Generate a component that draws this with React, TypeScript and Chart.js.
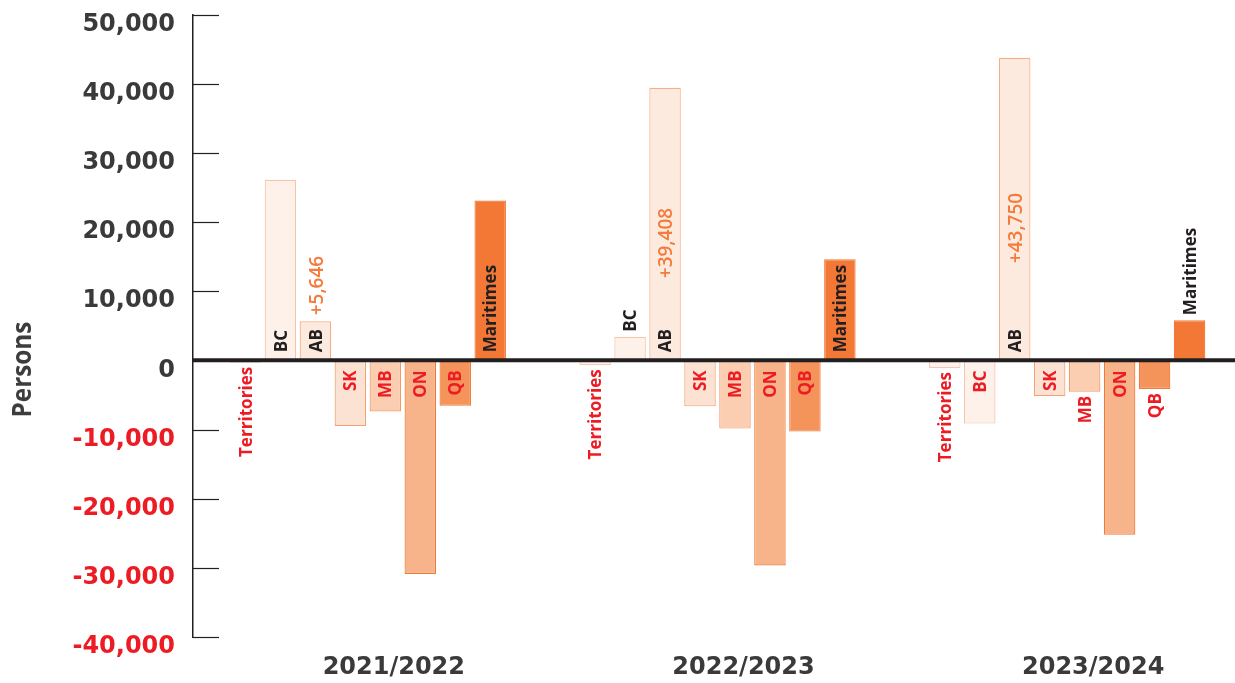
import React, { useEffect, useRef } from 'react';
import { Chart, registerables } from 'chart.js';

Chart.register(...registerables);

// ---- Data ----
const years = ['2021/2022', '2022/2023', '2023/2024'];
const regions = ['Territories', 'BC', 'AB', 'SK', 'MB', 'ON', 'QB', 'Maritimes'];

const territories = [-350, -700, -1100];
const bc = [26100, 3400, -9150];
const ab = [5646, 39408, 43750];
const sk = [-9500, -6650, -5200];
const mb = [-7400, -9870, -4530];
const on = [-30900, -29670, -25200];
const qb = [-6550, -10300, -4150];
const maritimes = [23100, 14600, 5800];

const seriesValues = [territories, bc, ab, sk, mb, on, qb, maritimes];

const yTickValues = [-40000, -30000, -20000, -10000, 0, 10000, 20000, 30000, 40000, 50000];

// ---- Styles ----
const fills = ['#fdf2ed', '#fdf1ea', '#fdeadf', '#fce2d3', '#fbceb1', '#f7b38a', '#f4935a', '#f37735'];
const borders = ['#f7c6ae', '#f7c4a9', '#f5ae86', '#f4a275', '#f39a68', '#ef7a36', '#f27a38', '#f37735'];

const DARK = '#3a3a3a';
const BLACK = '#231f20';
const RED = '#ed1c24';
const ORANGE = '#f47b3b';

const overlayPlugin = {
  id: 'overlay',
  afterDatasetsDraw(chart: any) {
    const { ctx, chartArea, scales } = chart;
    const yScale = scales.y;
    const zeroY = yScale.getPixelForValue(0);
    ctx.save();
    // tick marks inside the plot, to the right of the axis line
    ctx.strokeStyle = BLACK;
    ctx.lineWidth = 1.2;
    yScale.ticks.forEach((t: any) => {
      if (t.value === 0) return;
      const py = Math.round(yScale.getPixelForValue(t.value)) + 0.5;
      ctx.beginPath();
      ctx.moveTo(chartArea.left, py);
      ctx.lineTo(chartArea.left + 26, py);
      ctx.stroke();
    });
    // thick zero line
    ctx.lineWidth = 4;
    ctx.beginPath();
    ctx.moveTo(chartArea.left - 1, zeroY);
    ctx.lineTo(chart.width, zeroY);
    ctx.stroke();

    // bar labels
    chart.data.datasets.forEach((ds: any, di: number) => {
      const meta = chart.getDatasetMeta(di);
      meta.data.forEach((bar: any, j: number) => {
        const v = ds.data[j] as number;
        const { x, y: by, base } = bar.getProps(['x', 'y', 'base'], true);
        const name = regions[di];
        ctx.font = 'bold 18px "Open Sans"';
        const w = ctx.measureText(name).width * 0.95;
        ctx.fillStyle = v >= 0 ? BLACK : RED;
        ctx.save();
        if (v >= 0) {
          const len = base - by;
          const start = len >= w + 12 ? base - 8 : by - 5;
          ctx.translate(x, start);
          ctx.rotate(-Math.PI / 2);
          ctx.scale(0.95, 1);
          ctx.textAlign = 'left';
          ctx.textBaseline = 'middle';
          ctx.fillText(name, 0, 1);
        } else {
          const len = by - base;
          const top = len >= w + 13 ? base + 10 : by + 4;
          ctx.translate(x, top);
          ctx.rotate(-Math.PI / 2);
          ctx.scale(0.95, 1);
          ctx.textAlign = 'right';
          ctx.textBaseline = 'middle';
          ctx.fillText(name, 0, 1);
        }
        ctx.restore();

        if (di === 2) {
          const txt = '+' + v.toLocaleString('en-US');
          ctx.font = '600 19px "Open Sans"';
          const aw = ctx.measureText(txt).width;
          const len = base - by;
          const center = len > 150 ? (base + by) / 2 + 19 : by - 6 - aw / 2;
          ctx.save();
          ctx.fillStyle = ORANGE;
          ctx.translate(x + 1, center);
          ctx.rotate(-Math.PI / 2);
          ctx.textAlign = 'center';
          ctx.textBaseline = 'middle';
          ctx.fillText(txt, 0, 1);
          ctx.restore();
        }
      });
    });
    ctx.restore();
  },
  afterDraw(chart: any) {
    const { ctx } = chart;
    ctx.save();
    ctx.translate(23, 369.5);
    ctx.rotate(-Math.PI / 2);
    ctx.scale(0.9, 1);
    ctx.font = 'bold 27px "Open Sans"';
    ctx.fillStyle = '#3d3d3d';
    ctx.textAlign = 'center';
    ctx.textBaseline = 'middle';
    ctx.fillText('Persons', 0, 0);
    ctx.restore();
  },
};

export default function App() {
  const canvasRef = useRef<HTMLCanvasElement | null>(null);

  useEffect(() => {
    if (!canvasRef.current) return;
    const chart = new Chart(canvasRef.current, {
      type: 'bar',
      data: {
        labels: years,
        datasets: regions.map((r, i) => ({
          label: r,
          data: seriesValues[i],
          backgroundColor: fills[i],
          borderColor: borders[i],
          borderWidth: 1.2,
          borderSkipped: false,
          categoryPercentage: 0.8,
          barPercentage: 0.9,
        })),
      },
      options: {
        animation: false,
        responsive: false,
        devicePixelRatio: 1,
        layout: { padding: { top: 14.5, left: 0, right: 0, bottom: 0 } },
        plugins: {
          legend: { display: false },
          tooltip: { enabled: false },
        },
        scales: {
          x: {
            type: 'category',
            grid: { display: false, drawTicks: false },
            border: { display: false },
            ticks: {
              font: { family: '"DejaVu Sans"', weight: 'bold', size: 24 },
              color: DARK,
              labelOffset: 26,
              padding: 16,
              maxRotation: 0,
              autoSkip: false,
            },
            afterFit: (s: any) => {
              s.height = 46;
              s.paddingLeft = 0;
              s.paddingRight = 0;
            },
          },
          y: {
            min: -40000,
            max: 50000,
            grid: { display: false, drawTicks: false },
            border: { display: true, color: BLACK, width: 1.5 },
            afterBuildTicks: (s: any) => {
              s.ticks = yTickValues.map((v) => ({ value: v }));
            },
            ticks: {
              font: { family: '"DejaVu Sans"', weight: 'bold', size: 24 },
              color: (c: any) => (c.tick && c.tick.value < 0 ? RED : DARK),
              padding: 18,
              labelOffset: 10,
              callback: (v: any) => Number(v).toLocaleString('en-US'),
            },
            afterFit: (s: any) => {
              s.width = 193;
              s.paddingTop = 0;
              s.paddingBottom = 0;
            },
          },
        },
      },
      plugins: [overlayPlugin],
    } as any);
    return () => chart.destroy();
  }, []);

  return (
    <div
      style={{
        position: 'fixed',
        left: 0,
        top: 0,
        width: 1235,
        height: 683,
        overflow: 'hidden',
        background: '#ffffff',
      }}
    >
      <canvas ref={canvasRef} width={1242} height={683} style={{ display: 'block' }} />
    </div>
  );
}
